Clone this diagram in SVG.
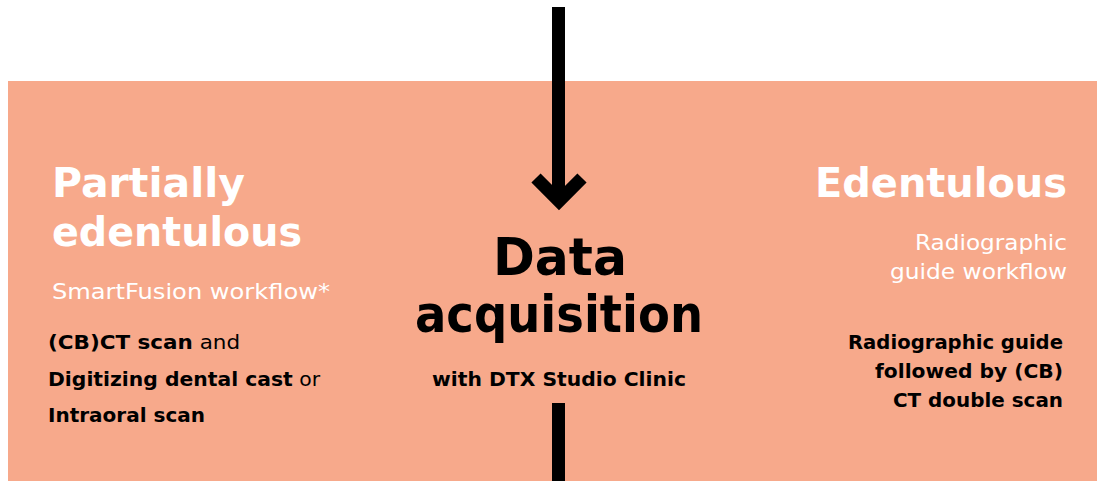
<svg xmlns="http://www.w3.org/2000/svg" width="1097" height="481" viewBox="0 0 1097 481">
<style>
.bg{fill:#F7A98B}
.t{font-family:"DejaVu Sans","Liberation Sans",sans-serif}
.h{font-weight:bold;fill:#fff}
.sub{fill:#fff;font-size:21px}
.bk{fill:#000;font-size:20px}
.b{font-weight:bold}
.ln{stroke:#000;stroke-width:13;fill:none}
</style>
<rect class="bg" x="8" y="81" width="1089" height="400"/>
<g id="connectors">
<line class="ln" x1="558.5" y1="7" x2="558.5" y2="200"/>
<polyline class="ln" points="536,178 559,201 582,178" stroke-linejoin="miter"/>
<line class="ln" x1="558.5" y1="403" x2="558.5" y2="481"/>
</g>
<g id="partially">
<text class="t h" x="52" y="197" font-size="41" textLength="193" lengthAdjust="spacingAndGlyphs">Partially</text>
<text class="t h" x="52" y="246" font-size="41" textLength="250" lengthAdjust="spacingAndGlyphs">edentulous</text>
<text class="t sub" x="52" y="299" textLength="278" lengthAdjust="spacingAndGlyphs">SmartFusion workflow*</text>
<text class="t bk" x="48" y="349" textLength="192" lengthAdjust="spacingAndGlyphs"><tspan class="b">(CB)CT scan</tspan> and</text>
<text class="t bk" x="48" y="386" textLength="272" lengthAdjust="spacingAndGlyphs"><tspan class="b">Digitizing dental cast</tspan> or</text>
<text class="t bk" x="48" y="422" textLength="157" lengthAdjust="spacingAndGlyphs"><tspan class="b">Intraoral scan</tspan></text>
</g>
<g id="data">
<text class="t b" x="493" y="275" font-size="52" textLength="134" lengthAdjust="spacingAndGlyphs" fill="#000">Data</text>
<text class="t b" x="415" y="332" font-size="52" textLength="288" lengthAdjust="spacingAndGlyphs" fill="#000">acquisition</text>
<text class="t bk b" x="432" y="386" textLength="254" lengthAdjust="spacingAndGlyphs">with DTX Studio Clinic</text>
</g>
<g id="edentulous">
<text class="t h" x="815" y="197" font-size="41" textLength="252" lengthAdjust="spacingAndGlyphs">Edentulous</text>
<text class="t sub" x="915" y="250" textLength="152" lengthAdjust="spacingAndGlyphs">Radiographic</text>
<text class="t sub" x="890" y="279" textLength="177" lengthAdjust="spacingAndGlyphs">guide workflow</text>
<text class="t bk b" x="848" y="349" textLength="215" lengthAdjust="spacingAndGlyphs">Radiographic guide</text>
<text class="t bk b" x="875" y="378" textLength="188" lengthAdjust="spacingAndGlyphs">followed by (CB)</text>
<text class="t bk b" x="893" y="407" textLength="170" lengthAdjust="spacingAndGlyphs">CT double scan</text>
</g>
</svg>
